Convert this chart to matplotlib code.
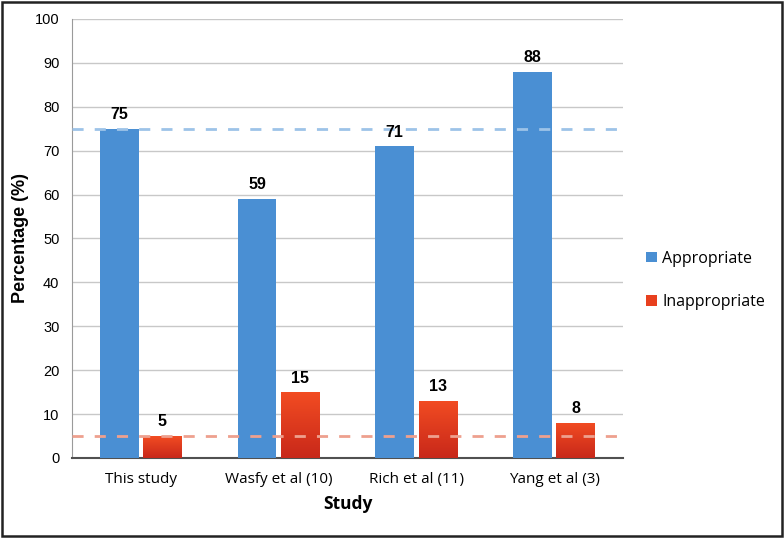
import matplotlib
matplotlib.use("Agg")
import matplotlib.pyplot as plt
import numpy as np
from matplotlib.patches import Rectangle
from matplotlib.colors import LinearSegmentedColormap

studies = ["This study", "Wasfy et al (10)", "Rich et al (11)", "Yang et al (3)"]
appropriate = [75, 59, 71, 88]
inappropriate = [5, 15, 13, 8]
ref_appropriate = 75
ref_inappropriate = 5
yticks = list(range(0, 101, 10))

blue = "#4a8fd3"
red = "#e8401e"

fig = plt.figure(figsize=(7.84, 5.38), dpi=100)
ax = fig.add_axes([0.0918, 0.1487, 0.7028, 0.816])

x = np.arange(len(studies))
w = 0.28
off = 0.157
b1 = ax.bar(x - off, appropriate, w, color=blue, zorder=3, label="Appropriate")
b2 = ax.bar(x + off, inappropriate, w, color=red, zorder=3, label="Inappropriate")

# gradient on red bars
grad = np.linspace(0, 1, 100).reshape(-1, 1)
cmap = LinearSegmentedColormap.from_list("r", ["#c8281a", "#f24c22"])
for rect in b2:
    x0, y0 = rect.get_x(), rect.get_y()
    ww, hh = rect.get_width(), rect.get_height()
    im = ax.imshow(grad, extent=[x0, x0 + ww, y0, y0 + hh], origin="lower",
                   cmap=cmap, aspect="auto", zorder=3.5)
    im.set_clip_path(rect)

for xi, v in zip(x - off, appropriate):
    ax.text(xi, v + 1.5, str(v), ha="center", va="bottom", fontsize=11.5,
            fontweight="bold", family="Liberation Sans", zorder=5)
for xi, v in zip(x + off, inappropriate):
    ax.text(xi, v + 1.5, str(v), ha="center", va="bottom", fontsize=11.5,
            fontweight="bold", family="Liberation Sans", zorder=5)

ax.axhline(ref_appropriate, color="#9dc3e8", ls=(0, (4, 4)), lw=2, zorder=4)
ax.axhline(ref_inappropriate, color="#eea08e", ls=(0, (4, 4)), lw=2, zorder=4)

ax.set_xlim(-0.5, len(studies) - 0.5)
ax.set_ylim(0, 100)
ax.set_yticks(yticks)
ax.set_yticklabels([str(t) for t in yticks], family="Liberation Sans", fontsize=10.5)
ax.set_xticks(x)
ax.set_xticklabels(studies, family="Open Sans", fontsize=11)
ax.tick_params(axis="y", length=0, pad=9)
ax.tick_params(axis="x", length=0, pad=10)
ax.grid(axis="y", color="#c8c8c8", lw=1, zorder=0)
for s in ["top", "right"]:
    ax.spines[s].set_visible(False)
ax.spines["left"].set_color("#9a9a9a")
ax.spines["bottom"].set_color("#505050")
ax.spines["bottom"].set_linewidth(1.5)

ax.set_ylabel("Percentage (%)", family="Liberation Sans", fontweight="bold", fontsize=13, labelpad=4)
ax.set_xlabel("Study", family="Open Sans", fontweight="bold", fontsize=12.5, labelpad=6)

leg = fig.legend(handles=[b1, b2], labels=["Appropriate", "Inappropriate"],
                 loc="center left", bbox_to_anchor=(0.806, 0.479), frameon=False,
                 prop={"family": "Open Sans", "size": 11.5}, handlelength=0.65,
                 handleheight=0.65, handletextpad=0.35, labelspacing=1.7)

fig.add_artist(Rectangle((0.002, 0.003), 0.996, 0.994, transform=fig.transFigure,
                         fill=False, ec="#222222", lw=1.8))

fig.savefig("out.png", dpi=100)
